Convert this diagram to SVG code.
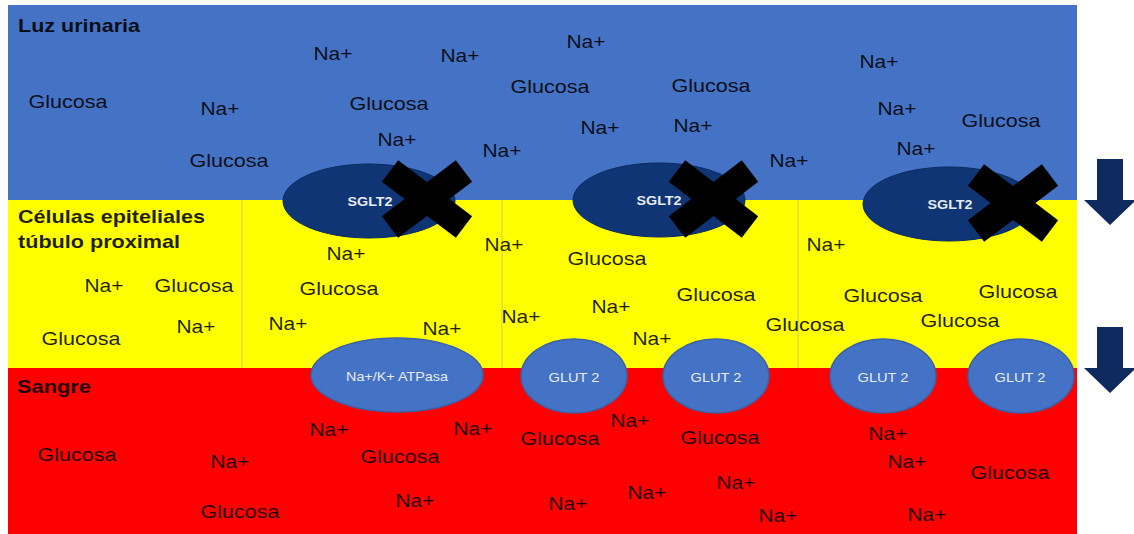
<svg xmlns="http://www.w3.org/2000/svg" width="1134" height="534" viewBox="0 0 1134 534">
<style>
text{font-family:"Liberation Sans",Arial,sans-serif;fill:#000;fill-opacity:.88}
.t{font-size:19px}
.h{font-size:19px;font-weight:bold}
.lbl{font-size:13px;fill:#e6ebf5;fill-opacity:1;text-anchor:middle}
.sl{font-weight:bold;font-size:13px}
.sglt{fill:#0f3575;stroke:#0a2a60;stroke-width:1}
.glut{fill:#4472c4;stroke:#3a62a8;stroke-width:1.5}
.x{stroke:#000;stroke-width:27;stroke-linecap:butt}
.div{stroke:#c9c96a;stroke-width:1}
.arr{fill:#0e2a5e}
</style>
<rect width="1134" height="534" fill="#fff"/>
<g id="regions">
<rect x="8" y="5" width="1069" height="195" fill="#4472c4"/>
<rect x="8" y="200" width="1069" height="168" fill="#ffff00"/>
<rect x="8" y="368" width="1069" height="166" fill="#ff0000"/>
<line class="div" x1="242" y1="200" x2="242" y2="368"/>
<line class="div" x1="502" y1="200" x2="502" y2="368"/>
<line class="div" x1="798" y1="200" x2="798" y2="368"/>
</g>
<g id="headers">
<text class="h" x="18" y="32" textLength="122" lengthAdjust="spacingAndGlyphs">Luz urinaria</text>
<text class="h" x="18" y="223" textLength="187" lengthAdjust="spacingAndGlyphs">Células epiteliales</text>
<text class="h" x="18" y="248" textLength="162" lengthAdjust="spacingAndGlyphs">túbulo proximal</text>
<text class="h" x="17" y="393" textLength="74" lengthAdjust="spacingAndGlyphs">Sangre</text>
</g>
<g id="lumen-text" class="t" text-anchor="middle">
<text x="333" y="60" textLength="39" lengthAdjust="spacingAndGlyphs">Na+</text>
<text x="460" y="62" textLength="39" lengthAdjust="spacingAndGlyphs">Na+</text>
<text x="586" y="48" textLength="39" lengthAdjust="spacingAndGlyphs">Na+</text>
<text x="68" y="108" textLength="79" lengthAdjust="spacingAndGlyphs">Glucosa</text>
<text x="220" y="115" textLength="39" lengthAdjust="spacingAndGlyphs">Na+</text>
<text x="389" y="110" textLength="79" lengthAdjust="spacingAndGlyphs">Glucosa</text>
<text x="550" y="93" textLength="79" lengthAdjust="spacingAndGlyphs">Glucosa</text>
<text x="711" y="92" textLength="79" lengthAdjust="spacingAndGlyphs">Glucosa</text>
<text x="879" y="68" textLength="39" lengthAdjust="spacingAndGlyphs">Na+</text>
<text x="897" y="115" textLength="39" lengthAdjust="spacingAndGlyphs">Na+</text>
<text x="1001" y="127" textLength="79" lengthAdjust="spacingAndGlyphs">Glucosa</text>
<text x="397" y="146" textLength="39" lengthAdjust="spacingAndGlyphs">Na+</text>
<text x="229" y="167" textLength="79" lengthAdjust="spacingAndGlyphs">Glucosa</text>
<text x="502" y="157" textLength="39" lengthAdjust="spacingAndGlyphs">Na+</text>
<text x="600" y="134" textLength="39" lengthAdjust="spacingAndGlyphs">Na+</text>
<text x="693" y="132" textLength="39" lengthAdjust="spacingAndGlyphs">Na+</text>
<text x="789" y="167" textLength="39" lengthAdjust="spacingAndGlyphs">Na+</text>
<text x="916" y="155" textLength="39" lengthAdjust="spacingAndGlyphs">Na+</text>
</g>
<g id="cell-text" class="t" text-anchor="middle">
<text x="346" y="260" textLength="39" lengthAdjust="spacingAndGlyphs">Na+</text>
<text x="504" y="251" textLength="39" lengthAdjust="spacingAndGlyphs">Na+</text>
<text x="339" y="295" textLength="79" lengthAdjust="spacingAndGlyphs">Glucosa</text>
<text x="104" y="292" textLength="39" lengthAdjust="spacingAndGlyphs">Na+</text>
<text x="194" y="292" textLength="79" lengthAdjust="spacingAndGlyphs">Glucosa</text>
<text x="196" y="333" textLength="39" lengthAdjust="spacingAndGlyphs">Na+</text>
<text x="81" y="345" textLength="79" lengthAdjust="spacingAndGlyphs">Glucosa</text>
<text x="288" y="330" textLength="39" lengthAdjust="spacingAndGlyphs">Na+</text>
<text x="442" y="335" textLength="39" lengthAdjust="spacingAndGlyphs">Na+</text>
<text x="607" y="265" textLength="79" lengthAdjust="spacingAndGlyphs">Glucosa</text>
<text x="611" y="313" textLength="39" lengthAdjust="spacingAndGlyphs">Na+</text>
<text x="521" y="323" textLength="39" lengthAdjust="spacingAndGlyphs">Na+</text>
<text x="652" y="345" textLength="39" lengthAdjust="spacingAndGlyphs">Na+</text>
<text x="716" y="301" textLength="79" lengthAdjust="spacingAndGlyphs">Glucosa</text>
<text x="826" y="251" textLength="39" lengthAdjust="spacingAndGlyphs">Na+</text>
<text x="883" y="302" textLength="79" lengthAdjust="spacingAndGlyphs">Glucosa</text>
<text x="1018" y="298" textLength="79" lengthAdjust="spacingAndGlyphs">Glucosa</text>
<text x="805" y="331" textLength="79" lengthAdjust="spacingAndGlyphs">Glucosa</text>
<text x="960" y="327" textLength="79" lengthAdjust="spacingAndGlyphs">Glucosa</text>
</g>
<g id="blood-text" class="t" text-anchor="middle">
<text x="77" y="461" textLength="79" lengthAdjust="spacingAndGlyphs">Glucosa</text>
<text x="230" y="468" textLength="39" lengthAdjust="spacingAndGlyphs">Na+</text>
<text x="240" y="518" textLength="79" lengthAdjust="spacingAndGlyphs">Glucosa</text>
<text x="329" y="436" textLength="39" lengthAdjust="spacingAndGlyphs">Na+</text>
<text x="400" y="463" textLength="79" lengthAdjust="spacingAndGlyphs">Glucosa</text>
<text x="415" y="507" textLength="39" lengthAdjust="spacingAndGlyphs">Na+</text>
<text x="473" y="435" textLength="39" lengthAdjust="spacingAndGlyphs">Na+</text>
<text x="560" y="445" textLength="79" lengthAdjust="spacingAndGlyphs">Glucosa</text>
<text x="630" y="427" textLength="39" lengthAdjust="spacingAndGlyphs">Na+</text>
<text x="720" y="444" textLength="79" lengthAdjust="spacingAndGlyphs">Glucosa</text>
<text x="568" y="510" textLength="39" lengthAdjust="spacingAndGlyphs">Na+</text>
<text x="647" y="499" textLength="39" lengthAdjust="spacingAndGlyphs">Na+</text>
<text x="736" y="489" textLength="39" lengthAdjust="spacingAndGlyphs">Na+</text>
<text x="778" y="522" textLength="39" lengthAdjust="spacingAndGlyphs">Na+</text>
<text x="888" y="440" textLength="39" lengthAdjust="spacingAndGlyphs">Na+</text>
<text x="907" y="468" textLength="39" lengthAdjust="spacingAndGlyphs">Na+</text>
<text x="1010" y="479" textLength="79" lengthAdjust="spacingAndGlyphs">Glucosa</text>
<text x="927" y="521" textLength="39" lengthAdjust="spacingAndGlyphs">Na+</text>
</g>
<g id="sglt2-1">
<ellipse class="sglt" cx="369" cy="201" rx="86" ry="37"/>
<text class="lbl sl" x="370" y="206" textLength="45" lengthAdjust="spacingAndGlyphs">SGLT2</text>
<line class="x" x1="390" y1="171" x2="464" y2="227"/>
<line class="x" x1="390" y1="227" x2="464" y2="171"/>
</g>
<g id="sglt2-2">
<ellipse class="sglt" cx="659" cy="200" rx="86" ry="37"/>
<text class="lbl sl" x="659" y="205" textLength="45" lengthAdjust="spacingAndGlyphs">SGLT2</text>
<line class="x" x1="677" y1="171" x2="750" y2="227"/>
<line class="x" x1="677" y1="227" x2="750" y2="171"/>
</g>
<g id="sglt2-3">
<ellipse class="sglt" cx="949" cy="204" rx="86" ry="37"/>
<text class="lbl sl" x="950" y="209" textLength="45" lengthAdjust="spacingAndGlyphs">SGLT2</text>
<line class="x" x1="976" y1="175" x2="1050" y2="231"/>
<line class="x" x1="976" y1="231" x2="1050" y2="175"/>
</g>
<g id="atpasa">
<ellipse class="glut" cx="397" cy="375" rx="86" ry="37"/>
<text class="lbl" x="397" y="381" textLength="102" lengthAdjust="spacingAndGlyphs">Na+/K+ ATPasa</text>
</g>
<g id="glut2-1">
<ellipse class="glut" cx="574" cy="376" rx="53" ry="37"/>
<text class="lbl" x="574" y="382" textLength="51" lengthAdjust="spacingAndGlyphs">GLUT 2</text>
</g>
<g id="glut2-2">
<ellipse class="glut" cx="716" cy="376" rx="53" ry="37"/>
<text class="lbl" x="716" y="382" textLength="51" lengthAdjust="spacingAndGlyphs">GLUT 2</text>
</g>
<g id="glut2-3">
<ellipse class="glut" cx="883" cy="376" rx="53" ry="37"/>
<text class="lbl" x="883" y="382" textLength="51" lengthAdjust="spacingAndGlyphs">GLUT 2</text>
</g>
<g id="glut2-4">
<ellipse class="glut" cx="1021" cy="376" rx="53" ry="37"/>
<text class="lbl" x="1020" y="382" textLength="51" lengthAdjust="spacingAndGlyphs">GLUT 2</text>
</g>
<g id="connectors">
<polygon class="arr" points="1097,159 1123,159 1123,200 1136,200 1110,225 1084,200 1097,200"/>
<polygon class="arr" points="1097,327 1123,327 1123,368 1136,368 1110,393 1084,368 1097,368"/>
</g>
</svg>
